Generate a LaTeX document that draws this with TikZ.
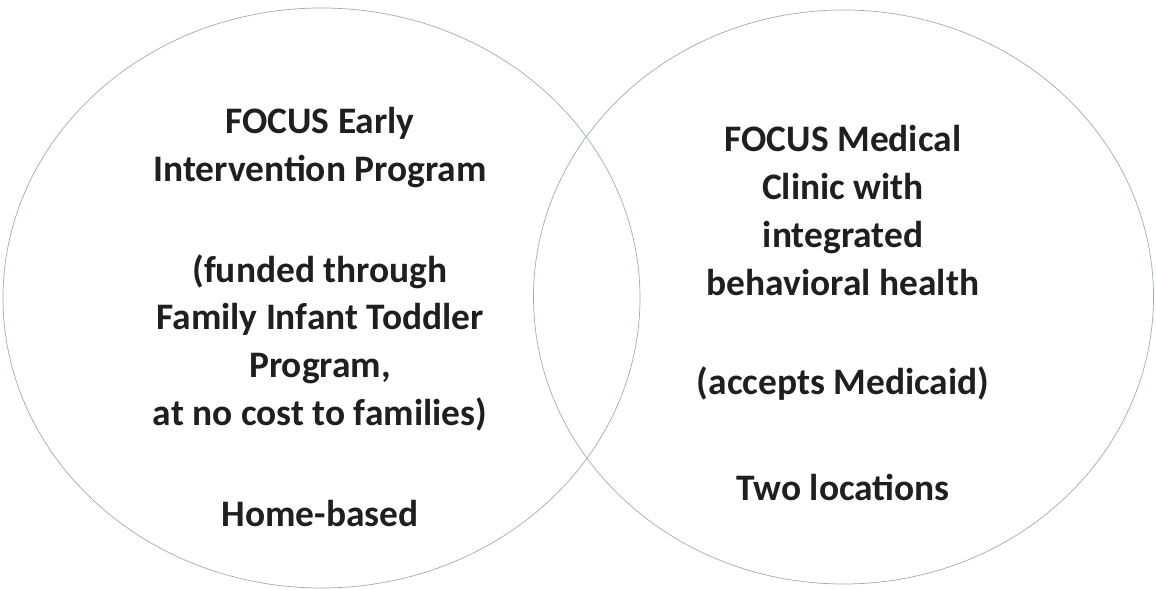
\documentclass[tikz,border=0pt]{standalone}
\usepackage{fontspec}
\setmainfont{Carlito}
\usepackage{tikz}
\usetikzlibrary{positioning}
\definecolor{ringgray}{RGB}{160,170,185}

\begin{document}
\begin{tikzpicture}[
    x=0.02cm, y=-0.02cm,
    % Venn styles
    ring/.style={
        draw=ringgray,
        line width=0.4pt
    },
    label/.style={
        font=\bfseries\fontsize{21.3}{27.3}\selectfont,
        text=black!88,
        align=center,
        inner sep=0pt
    }
]
\useasboundingbox (0,0) rectangle (1156,590);

% Two overlapping circles
\draw[ring] (321.5,298) ellipse [x radius=318.5, y radius=290];
\draw[ring] (843.5,297) ellipse [x radius=310, y radius=287];

% Left circle text
\node (early) at (320,317) [label] {
    FOCUS Early\\
    Intervention Program\\[30pt]
    (funded through\\
    Family Infant Toddler\\
    Program,\\
    at no cost to families)\\[30pt]
    Home-based
};

% Right circle text
\node (medical) at (843,313) [label] {
    FOCUS Medical\\
    Clinic with\\
    integrated\\
    behavioral health\\[29.5pt]
    (accepts Medicaid)\\[33pt]
    Two locations
};
\end{tikzpicture}
\end{document}
